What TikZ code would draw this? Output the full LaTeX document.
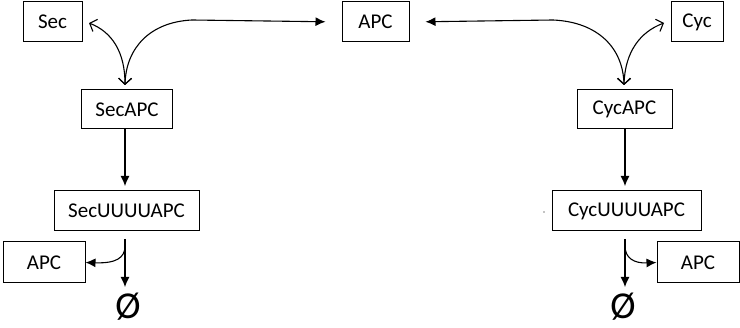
\documentclass[tikz,border=0pt]{standalone}
\usepackage{fontspec}
\setmainfont{Carlito}
\usetikzlibrary{arrows.meta}
\begin{document}
\begin{tikzpicture}[x=1pt,y=-1pt,
  species/.style={draw,line width=1pt,inner sep=0pt,font=\fontsize{21}{25}\selectfont},
  sink/.style={inner sep=0pt,font=\fontsize{38}{40}\selectfont},
  flow/.style={line width=1.1pt,-{Latex[length=10pt,width=9pt]}},
  bind/.style={line width=1.1pt},
  opentip/.tip={Straight Barb[length=6pt,width=13pt,line width=1.1pt]}]
\useasboundingbox (0,0) rectangle (740,328);

% species boxes
\node[species,minimum width=59pt,minimum height=40pt] (sec) at (52.5,22) {Sec};
\node[species,minimum width=67pt,minimum height=40pt] (apc) at (375.5,22) {APC};
\node[species,minimum width=52pt,minimum height=40pt] (cyc) at (697,22) {Cyc};
\node[species,minimum width=91pt,minimum height=39pt] (secapc) at (127,109.5) {SecAPC};
\node[species,minimum width=95pt,minimum height=39pt] (cycapc) at (624.5,109.5) {CycAPC};
\node[species,minimum width=145pt,minimum height=40pt] (secu) at (126.5,211) {SecUUUUAPC};
\node[species,minimum width=149pt,minimum height=40pt] (cycu) at (626.5,211) {CycUUUUAPC};
\node[species,minimum width=82pt,minimum height=41pt] (apcl) at (44,262.5) {APC};
\node[species,minimum width=82pt,minimum height=41pt] (apcr) at (698,262.5) {APC};
\node[sink] (nulll) at (128,307) {Ø};
\node[sink] (nullr) at (623,307) {Ø};

% branch points and curve ends
\coordinate (jl) at (192,20);
\coordinate (jr) at (553,20);
\coordinate (bl) at (125,85);
\coordinate (br) at (624,85);
\coordinate (sl) at (89,23);
\coordinate (cr) at (664,23);
\coordinate (dl) at (125,246);
\coordinate (dr) at (625,246);

% binding / unbinding with APC
\draw[flow,shorten >=16pt] (jl) -- (apc.west);
\draw[flow,shorten >=16pt] (jr) -- (apc.east);
\draw[bind,-{opentip}] (jl) .. controls (150,22) and (126,48) .. (bl);
\draw[bind,{opentip}-{opentip}] (sl) .. controls (112,32) and (125,52) .. (bl);
\draw[bind,-{opentip}] (jr) .. controls (598,22) and (623,48) .. (br);
\draw[bind,{opentip}-{opentip}] (cr) .. controls (640,32) and (625,52) .. (br);

% ubiquitination
\draw[flow,shorten >=5pt] (125,128.5) -- (125,191);
\draw[flow,shorten >=5pt] (625,128.5) -- (625,191);

% degradation and release of APC
\draw[flow] (125,239) -- (125,287);
\draw[flow] (dl) .. controls (125,258) and (116,263.5) .. (apcl.east);
\draw[flow] (625,239) -- (625,287);
\draw[flow] (dr) .. controls (625,258) and (634,263.5) .. (apcr.west);

\fill (544,212) circle (0.6pt);
\end{tikzpicture}
\end{document}
